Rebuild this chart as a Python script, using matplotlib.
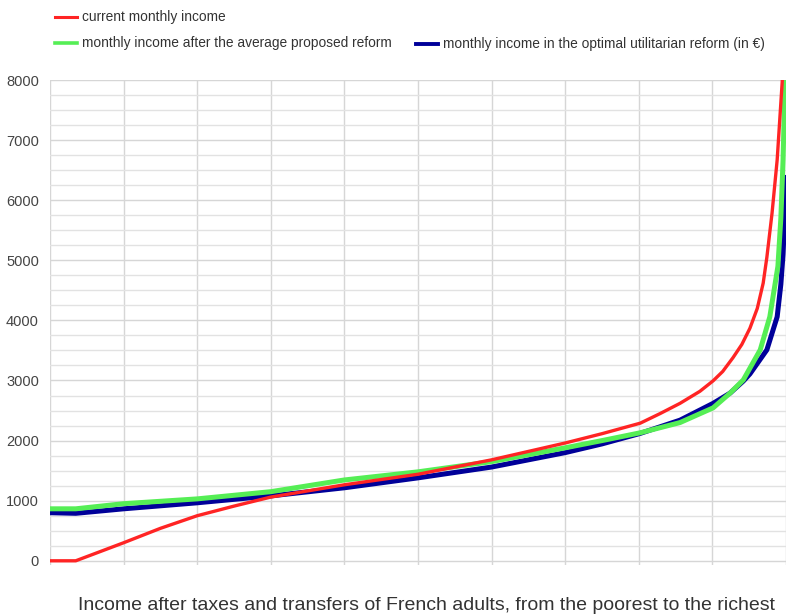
import matplotlib.pyplot as plt
from matplotlib.lines import Line2D

# percentile of adults (poorest -> richest) and monthly income in euros
red_pct = [0, 3.5, 10, 15, 20, 25, 30, 40, 50, 60, 70, 75, 80.2, 82.9, 85.6, 88.3, 90.1, 91.4, 92.8,
           94.0, 95.1, 96.1, 96.9, 97.4, 98.1, 98.8, 99.5, 100]
red_val = [0, 0, 300, 540, 750, 910, 1060, 1265, 1440, 1680, 1960, 2115, 2290, 2450, 2620, 2820, 2995, 3150, 3380,
           3600, 3870, 4200, 4620, 5050, 5780, 6670, 8000, 10000]

green_pct = [0, 3.5, 10, 20, 30, 40, 50, 60, 70, 75, 80.2, 85.6, 90.1, 92.4, 94.2, 96.5, 97.8, 98.9, 99.3,
             99.6, 100]
green_val = [865, 865, 950, 1030, 1150, 1345, 1480, 1650, 1880, 2000, 2130, 2300, 2545, 2790, 3010, 3510, 4060,
             4900, 5700, 6670, 8600]

blue_pct = [0, 3.5, 10, 20, 30, 40, 50, 60, 70, 75, 80.2, 85.6, 90.1, 92.4, 94.2, 95.1, 97.4, 98.8, 99.3,
            99.6, 99.85, 100]
blue_val = [800, 790, 865, 965, 1080, 1215, 1380, 1560, 1800, 1945, 2120, 2340, 2620, 2790, 2990, 3110, 3510,
            4060, 4600, 5100, 5800, 6420]

labels = ["current monthly income",
          "monthly income after the average proposed reform",
          "monthly income in the optimal utilitarian reform (in €)"]
title = "Income after taxes and transfers of French adults, from the poorest to the richest"

RED = "#ff2424"
GREEN = "#55ee55"
BLUE = "#000099"

plt.rcParams["font.family"] = ["Liberation Sans", "DejaVu Sans"]

fig = plt.figure(figsize=(7.87, 6.16), dpi=100)
ax = fig.add_axes([50 / 787, 51 / 616, 736 / 787, 485 / 616])

ax.plot(blue_pct, blue_val, color=BLUE, lw=3.6, solid_capstyle="butt", solid_joinstyle="round", zorder=3)
ax.plot(green_pct, green_val, color=GREEN, lw=3.6, solid_capstyle="butt", solid_joinstyle="round", zorder=4)
ax.plot(red_pct, red_val, color=RED, lw=2.4, solid_capstyle="butt", solid_joinstyle="round", zorder=5)

ax.set_xlim(0, 100)
ax.set_ylim(-70, 8000)
ax.set_xticks(range(0, 101, 10))
ax.set_xticklabels([])
ax.set_yticks(range(0, 8001, 1000))
ax.set_yticks(range(0, 8001, 250), minor=True)
ax.tick_params(axis="both", which="both", length=0)
ax.tick_params(axis="y", labelsize=10.5, labelcolor="#444444", pad=8)
ax.grid(True, which="major", color="#d6d6d6", lw=1.0)
ax.grid(True, which="minor", axis="y", color="#e2e2e2", lw=1.0)
ax.set_axisbelow(True)
for s in ax.spines.values():
    s.set_visible(False)

# legend drawn by hand (first row one entry, second row two entries)
def legend_item(x0, y, color, lw, text):
    fig.add_artist(Line2D([x0 / 787, (x0 + 22) / 787], [1 - y / 616, 1 - y / 616],
                          color=color, lw=lw, transform=fig.transFigure))
    fig.text((x0 + 27) / 787, 1 - y / 616, text, fontsize=9.9, color="#333333", va="center")

legend_item(55, 17, RED, 2.2, labels[0])
legend_item(55, 43, GREEN, 2.6, labels[1])
legend_item(416, 44, BLUE, 2.8, labels[2])

fig.text(426 / 787, 1 - 605 / 616, title, fontsize=14, color="#333333", ha="center", va="center")

fig.savefig("out.png", dpi=100)
